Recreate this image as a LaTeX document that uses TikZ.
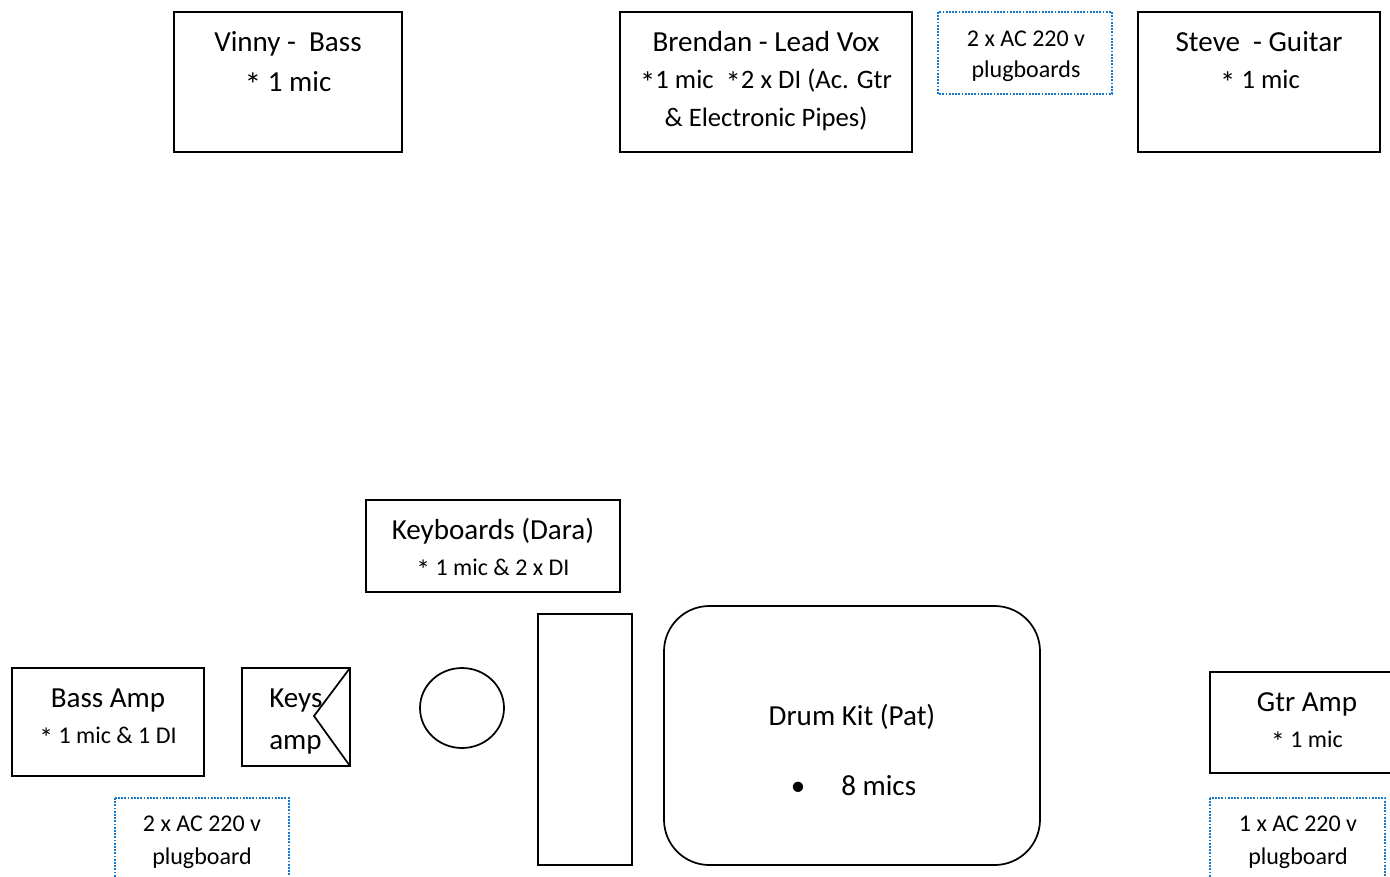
\documentclass[tikz,border=0pt]{standalone}
\usepackage{fontspec}
\usepackage{graphicx}
\setmainfont{Carlito}
\definecolor{plugblue}{RGB}{20,120,205}
\newcommand{\bigast}{\raisebox{-0.2em}{\scalebox{1.15}{*}}}
\begin{document}
\begin{tikzpicture}[x=0.75pt,y=-0.75pt,
  box/.style={draw=black,line width=1.3pt},
  plug/.style={draw=plugblue,line width=1.5pt,dash pattern=on 1.4pt off 1.0pt},
  big/.style={font=\fontsize{21.8}{26}\selectfont,inner sep=0pt,anchor=base},
  mid/.style={font=\fontsize{20}{24}\selectfont,inner sep=0pt,anchor=base},
  small/.style={font=\fontsize{18}{22}\selectfont,inner sep=0pt,anchor=base}]
\useasboundingbox (0,0) rectangle (1390,876);
\begin{scope}
\clip (0,0) rectangle (1390,876);
% top row
\draw[box] (174,12) rectangle (402,152);
\node[big] (vinny1) at (288,51) {Vinny -\ \ Bass};
\node[big] (vinny2) at (288,91) {\bigast{} 1 mic};

\draw[box] (620,12) rectangle (912,152);
\node[big] (bren1) at (766,51) {Brendan - Lead Vox};
\node[mid] (bren2) at (766,88) {\bigast1 mic\ \ \bigast2 x DI (Ac. Gtr};
\node[mid] (bren3) at (766,126) {\& Electronic Pipes)};

\draw[plug] (938,12) rectangle (1112,94);
\node[small] (plugA1) at (1026,46) {2 x AC 220 v};
\node[small] (plugA2) at (1026,77) {plugboards};

\draw[box] (1138,12) rectangle (1380,152);
\node[big] (steve1) at (1259,51) {Steve\ \ - Guitar};
\node[mid] (steve2) at (1260,88) {\bigast{} 1 mic};

% keyboards
\draw[box] (366,500) rectangle (620,592);
\node[big] (keyb1) at (493,539) {Keyboards (Dara)};
\node[small] (keyb2) at (493,575) {\bigast{} 1 mic \& 2 x DI};

% bass amp
\draw[box] (12,668) rectangle (204,776);
\node[big] (bass1) at (108,707) {Bass Amp};
\node[small] (bass2) at (108,743) {\bigast{} 1 mic \& 1 DI};

% keys amp
\draw[box] (242,668) rectangle (350,766);
\draw[box] (350,668) -- (314,716) -- (350,766);
\node[big,anchor=base west] (keys1) at (269,707) {Keys};
\node[big,anchor=base west] (keys2) at (269,749) {amp};

% circle and tall rectangle
\draw[box] (462,708) ellipse [x radius=42, y radius=40];
\draw[box] (538,614) rectangle (632,865);

% drum kit
\draw[box,rounded corners=34pt] (664,606) rectangle (1040,865);
\node[big] (drum1) at (852,725) {Drum Kit (Pat)};
\node[big] (drum2) at (798,795) {•};
\node[big,anchor=base west] (drum3) at (841,795) {8 mics};

% gtr amp
\draw[box] (1210,672) rectangle (1404,773);
\node[big] (gtr1) at (1307,711) {Gtr Amp};
\node[small] (gtr2) at (1307,747) {\bigast{} 1 mic};

% bottom plugboards
\draw[plug] (115,798) rectangle (289,900);
\node[small] (plugB1) at (202,831) {2 x AC 220 v};
\node[small] (plugB2) at (202,864) {plugboard};

\draw[plug] (1210,798) rectangle (1385,900);
\node[small] (plugC1) at (1298,831) {1 x AC 220 v};
\node[small] (plugC2) at (1298,864) {plugboard};
\end{scope}
\end{tikzpicture}
\end{document}
